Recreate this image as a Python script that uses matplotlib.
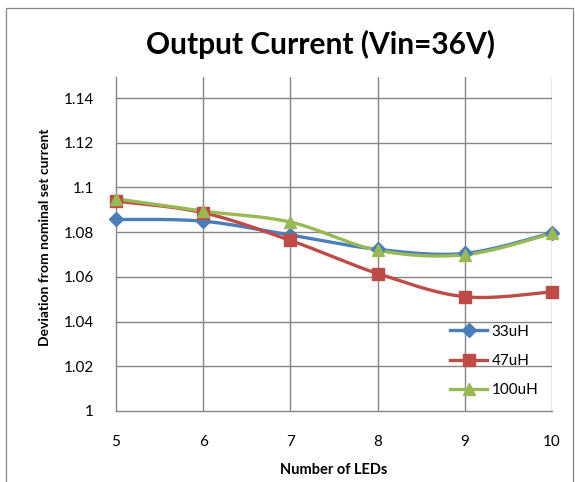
import numpy as np
import matplotlib
matplotlib.use("Agg")
import matplotlib.pyplot as plt
from matplotlib.patches import Rectangle

# data
leds = [5, 6, 7, 8, 9, 10]
cur_33uh = [1.0857, 1.0849, 1.0787, 1.0723, 1.0705, 1.0797]
cur_47uh = [1.0939, 1.0887, 1.0763, 1.0615, 1.0511, 1.0533]
cur_100uh = [1.0949, 1.0894, 1.0845, 1.0719, 1.0699, 1.0794]
y_ticks = [1, 1.02, 1.04, 1.06, 1.08, 1.1, 1.12, 1.14]
y_tick_labels = ["1", "1.02", "1.04", "1.06", "1.08", "1.1", "1.12", "1.14"]

series = [
    ("33uH", cur_33uh, "#4A7EBB", "D", 7),
    ("47uH", cur_47uh, "#BE4B48", "s", 8),
    ("100uH", cur_100uh, "#98B954", "^", 9),
]


def smooth(x, y, n=30):
    # Excel-like smoothed line: Catmull-Rom segments drawn as cubic Bezier
    x = np.asarray(x, float)
    y = np.asarray(y, float)
    px = np.concatenate([[x[0]], x, [x[-1]]])
    py = np.concatenate([[y[0]], y, [y[-1]]])
    t = np.linspace(0, 1, n)
    xs, ys = [], []
    for i in range(1, len(px) - 2):
        p0 = np.array([px[i], py[i]])
        p3 = np.array([px[i + 1], py[i + 1]])
        p1 = p0 + (np.array([px[i + 1], py[i + 1]]) - np.array([px[i - 1], py[i - 1]])) / 6
        p2 = p3 - (np.array([px[i + 2], py[i + 2]]) - np.array([px[i], py[i]])) / 6
        b = ((1 - t) ** 3)[:, None] * p0 + (3 * (1 - t) ** 2 * t)[:, None] * p1 \
            + (3 * (1 - t) * t ** 2)[:, None] * p2 + (t ** 3)[:, None] * p3
        xs.extend(b[:, 0])
        ys.extend(b[:, 1])
    return xs, ys


plt.rcParams['font.family'] = ['Lato', 'DejaVu Sans']

W, H = 575, 482
fig = plt.figure(figsize=(W / 100, H / 100), dpi=100, facecolor='white')
fig.patches.append(Rectangle((6 / W, -0.01), (573 - 6) / W, 1 - 8 / H + 0.01,
                             transform=fig.transFigure, fill=False,
                             edgecolor='#868686', linewidth=0.9))

ax = fig.add_axes([116 / W, 1 - 411 / H, (552 - 116) / W, (411 - 77) / H])
ax.set_xlim(5, 10)
ax.set_ylim(1, 1.1494)

grid_color = '#868686'
for v in y_ticks[1:]:
    ax.axhline(v, color=grid_color, linewidth=1.0, zorder=1)
for v in leds[1:]:
    ax.axvline(v, color=grid_color, linewidth=1.0, zorder=1)

for label, vals, color, marker, ms in series:
    sx, sy = smooth(leds, vals)
    ax.plot(sx, sy, color=color, linewidth=2.4, zorder=3, solid_capstyle='round')
    ax.plot(leds, vals, linestyle='none', marker=marker, markersize=ms,
            color=color, zorder=4, clip_on=False)

for side in ['top', 'right']:
    ax.spines[side].set_visible(False)
for side in ['left', 'bottom']:
    ax.spines[side].set_color(grid_color)
    ax.spines[side].set_linewidth(1.0)

ax.set_yticks(y_ticks)
ax.set_yticklabels(y_tick_labels)
ax.set_xticks(leds)
ax.tick_params(axis='both', length=0, labelsize=11, colors='black')
ax.tick_params(axis='y', pad=16)
ax.tick_params(axis='x', pad=17)

fig.text(334 / W, 1 - 470 / H, "Number of LEDs", fontsize=10.5,
         fontweight='bold', ha='center', va='center')
fig.text(45 / W, 1 - 237 / H, "Deviation from nominal set current", fontsize=10,
         fontweight='bold', ha='center', va='center', rotation=90)

fig.text(321 / W, 1 - 44 / H, "Output Current (Vin=36V)", fontsize=21.5,
         fontweight='bold', ha='center', va='center')

handles = []
for label, vals, color, marker, ms in series:
    h, = ax.plot([], [], color=color, linewidth=2.4, marker=marker, markersize=ms,
                 label=label)
    handles.append(h)
leg = ax.legend(handles=handles, loc='lower right', bbox_to_anchor=(1.0, 0.0),
                frameon=False, fontsize=11, handlelength=2.4, labelspacing=1.0,
                handletextpad=0.3)

fig.savefig("out.png", dpi=100, facecolor='white')
